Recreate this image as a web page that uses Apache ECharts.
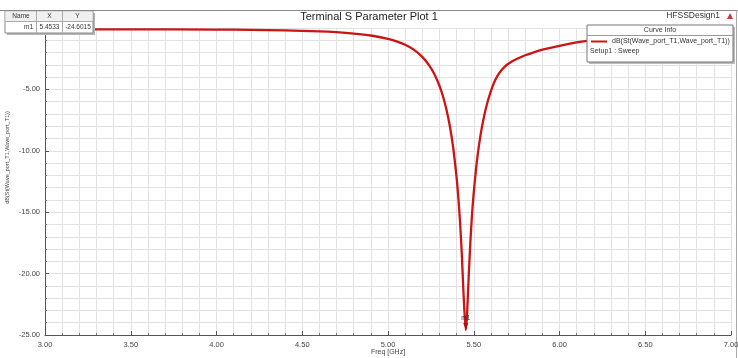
<!DOCTYPE html>
<html><head><meta charset="utf-8">
<script src="https://cdn.jsdelivr.net/npm/echarts@6/dist/echarts.min.js"></script>
<style>html,body{margin:0;padding:0;background:#fff}#c{width:738px;height:358px}</style>
</head><body><div id="c"></div>
<script>
// Frequency sweep (GHz) and return loss dB(S11)
const freqGHz = [3.00,3.50,4.00,4.20,4.40,4.60,4.70,4.80,4.90,5.00,5.05,5.10,5.15,5.20,5.24,5.27,5.30,5.32,5.34,5.36,5.38,5.40,5.41,5.42,5.43,5.44,5.4533,5.46,5.47,5.48,5.49,5.50,5.52,5.54,5.56,5.58,5.60,5.62,5.64,5.66,5.68,5.70,5.72,5.75,5.80,5.85,5.90,6.00,6.10,6.20,6.30,6.40,6.50,6.75,7.00];
const s11dB   = [-0.10,-0.11,-0.13,-0.15,-0.19,-0.27,-0.34,-0.45,-0.61,-0.88,-1.09,-1.37,-1.76,-2.35,-3.04,-3.74,-4.70,-5.54,-6.60,-7.94,-9.73,-12.18,-13.79,-15.78,-18.30,-21.50,-24.6015,-23.6,-20.4,-17.5,-15.2,-13.4,-10.66,-8.68,-7.20,-6.05,-5.14,-4.40,-3.86,-3.46,-3.16,-2.93,-2.74,-2.52,-2.22,-1.98,-1.77,-1.45,-1.18,-0.98,-0.85,-0.76,-0.70,-0.61,-0.56];
const seriesName = 'dB(St(Wave_port_T1,Wave_port_T1))';
const markerName = 'm1';
const markerX = 5.4533;
const markerY = -24.6015;
const xMin = 3.00, xMax = 7.00, xStep = 0.50;
const yMin = -25.00, yMax = 0.00, yStep = 5.00;

const FONT = 'Liberation Sans';
const chart = echarts.init(document.getElementById('c'), null, {renderer:'canvas'});
chart.setOption({
  backgroundColor:'#ffffff',
  animation:false,
  grid:{left:45, right:7, top:28, bottom:23, containLabel:false, outerBoundsMode:'none'},
  legend:{
    show:true, left:591, top:38, padding:0, z:200, itemWidth:16, itemHeight:2, itemGap:4,
    icon:'rect',
    textStyle:{fontFamily:FONT, fontSize:7, color:'#333'},
    data:[seriesName]
  },
  xAxis:{
    type:'value', min:xMin, max:xMax, interval:xStep,
    name:'Freq [GHz]', nameLocation:'middle', nameGap:14, nameMoveOverlap:false,
    nameTextStyle:{fontFamily:FONT, fontSize:7, color:'#444'},
    axisLine:{show:true, onZero:false, lineStyle:{color:'#555', width:1}},
    axisTick:{show:true, inside:true, length:4, lineStyle:{color:'#555'}},
    minorTick:{show:true, splitNumber:5, length:2, lineStyle:{color:'#777'}},
    axisLabel:{fontFamily:FONT, fontSize:7.5, color:'#444', margin:6, formatter:v=>v.toFixed(2)},
    splitLine:{show:true, lineStyle:{color:'#e2e2e2', width:1}},
    minorSplitLine:{show:true, lineStyle:{color:'#e2e2e2', width:1}}
  },
  yAxis:{
    type:'value', min:yMin, max:yMax, interval:yStep,
    name:seriesName, nameLocation:'middle', nameGap:35, nameRotate:90, nameMoveOverlap:false,
    nameTextStyle:{fontFamily:FONT, fontSize:5.5, color:'#444', padding:[0,0,0,48]},
    axisLine:{show:true, onZero:false, lineStyle:{color:'#555', width:1}},
    axisTick:{show:true, inside:true, length:4, lineStyle:{color:'#555'}},
    minorTick:{show:true, splitNumber:5, length:2, lineStyle:{color:'#777'}},
    axisLabel:{fontFamily:FONT, fontSize:7.5, color:'#444', margin:5, formatter:v=>v.toFixed(2)},
    splitLine:{show:true, lineStyle:{color:'#e2e2e2', width:1}},
    minorSplitLine:{show:true, lineStyle:{color:'#e2e2e2', width:1}}
  },
  series:[{
    name:seriesName, type:'line', showSymbol:false, smooth:0.25,
    data:freqGHz.map((f,i)=>[f,s11dB[i]]),
    lineStyle:{color:'#cc1414', width:2.3},
    itemStyle:{color:'#cc1414'},
    markPoint:{
      symbol:'triangle', symbolRotate:180, symbolSize:[5,6], symbolOffset:[0,-4],
      itemStyle:{color:'#aa1010'},
      label:{show:true, position:'top', distance:1, formatter:markerName, fontFamily:FONT, fontSize:6.5, color:'#333'},
      data:[{coord:[markerX, markerY]}]
    }
  }],
  graphic:[
    {type:'line', shape:{x1:0,y1:10.5,x2:738,y2:10.5}, style:{stroke:'#888', lineWidth:1}},
    {type:'line', shape:{x1:736.5,y1:10,x2:736.5,y2:358}, style:{stroke:'#aaa', lineWidth:1}},
    {type:'text', left:'center', top:11, style:{text:'Terminal S Parameter Plot 1', font:'11px '+FONT, fill:'#222'}},
    {type:'text', x:720, y:16, style:{text:'HFSSDesign1', font:'8.5px '+FONT, fill:'#333', textAlign:'right', textVerticalAlign:'middle'}},
    {type:'polygon', shape:{points:[[727,19],[733,19],[730,13]]}, style:{fill:'#d23a3a'}},
    // curve info box
    {type:'rect', shape:{x:589,y:27,width:146,height:37}, style:{fill:'#bbb'}, z:99},
    {type:'rect', shape:{x:587,y:25,width:146,height:37}, style:{fill:'#fff', stroke:'#777', lineWidth:1}, z:100},
    {type:'line', shape:{x1:587,y1:35.5,x2:733,y2:35.5}, style:{stroke:'#999', lineWidth:1}, z:101},
    {type:'text', x:660, y:30.5, style:{text:'Curve Info', font:'7px '+FONT, fill:'#333', textAlign:'center', textVerticalAlign:'middle'}, z:101},
    {type:'text', x:590, y:51, style:{text:'Setup1 : Sweep', font:'7px '+FONT, fill:'#333', textVerticalAlign:'middle'}, z:101},
    // marker table
    {type:'rect', shape:{x:7,y:13,width:88,height:22}, style:{fill:'#b5b5b5'}, z:99},
    {type:'rect', shape:{x:5,y:11,width:88,height:22}, style:{fill:'#fff', stroke:'#888', lineWidth:1}, z:100},
    {type:'rect', shape:{x:5.5,y:11.5,width:87,height:10}, style:{fill:'#f0f0f0'}, z:100},
    {type:'line', shape:{x1:5,y1:21.5,x2:93,y2:21.5}, style:{stroke:'#aaa', lineWidth:1}, z:101},
    {type:'line', shape:{x1:36.5,y1:11,x2:36.5,y2:33}, style:{stroke:'#aaa', lineWidth:1}, z:101},
    {type:'line', shape:{x1:62.5,y1:11,x2:62.5,y2:33}, style:{stroke:'#aaa', lineWidth:1}, z:101},
    {type:'text', x:21, y:16.5, style:{text:'Name', font:'6.5px '+FONT, fill:'#333', textAlign:'center', textVerticalAlign:'middle'}, z:102},
    {type:'text', x:49.5, y:16.5, style:{text:'X', font:'6.5px '+FONT, fill:'#333', textAlign:'center', textVerticalAlign:'middle'}, z:102},
    {type:'text', x:77.5, y:16.5, style:{text:'Y', font:'6.5px '+FONT, fill:'#333', textAlign:'center', textVerticalAlign:'middle'}, z:102},
    {type:'text', x:33, y:27.5, style:{text:markerName, font:'6.5px '+FONT, fill:'#333', textAlign:'right', textVerticalAlign:'middle'}, z:102},
    {type:'text', x:49.5, y:27.5, style:{text:markerX.toFixed(4), font:'6.5px '+FONT, fill:'#333', textAlign:'center', textVerticalAlign:'middle'}, z:102},
    {type:'text', x:78, y:27.5, style:{text:markerY.toFixed(4), font:'6.5px '+FONT, fill:'#333', textAlign:'center', textVerticalAlign:'middle'}, z:102}
  ]
});
</script></body></html>
